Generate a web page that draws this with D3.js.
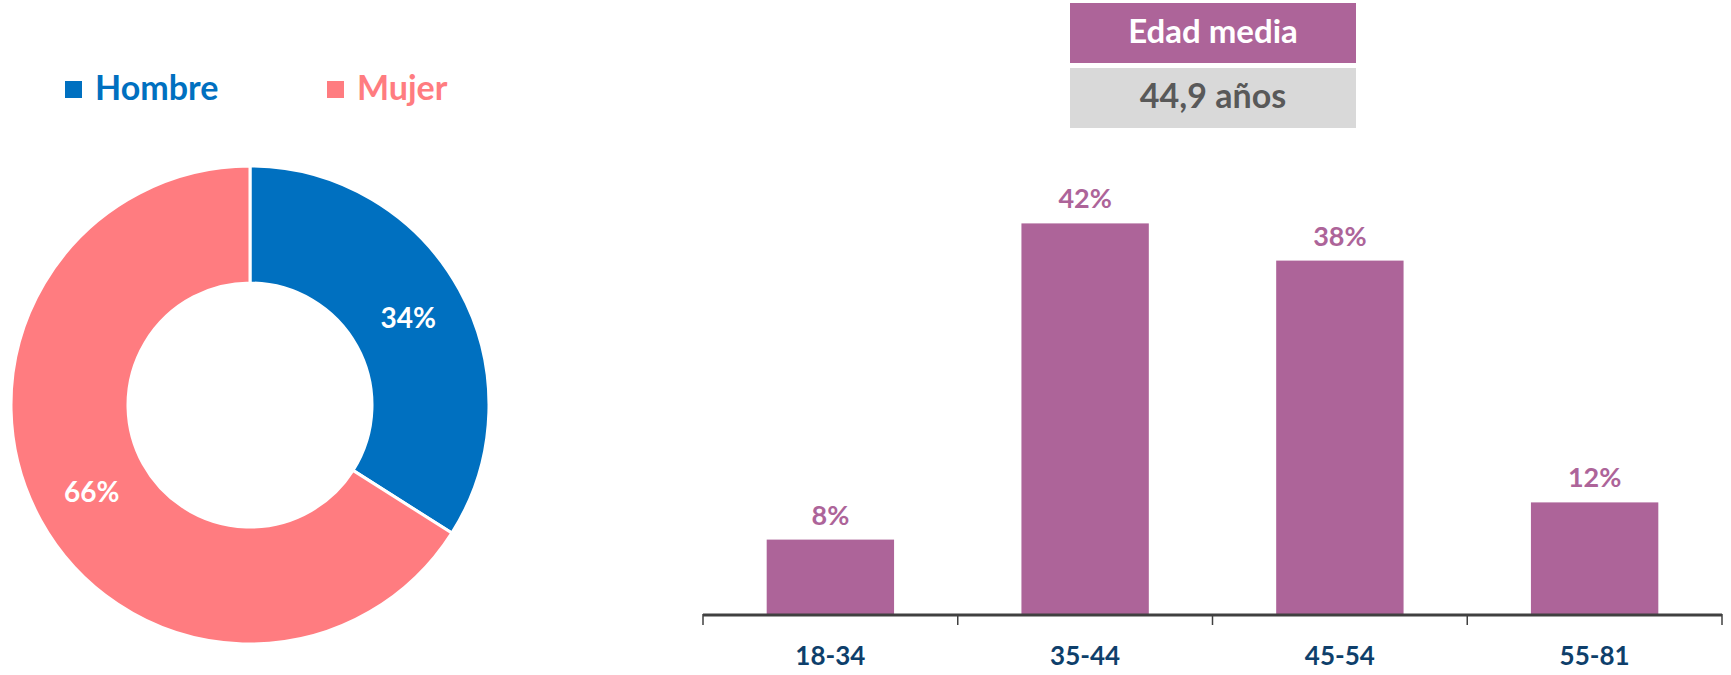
<!DOCTYPE html>
<html>
<head>
<meta charset="utf-8">
<script src="https://cdn.jsdelivr.net/npm/d3@7"></script>
<style>
  body { margin: 0; background: #fff; }
  text { font-family: Lato, "Open Sans", sans-serif; font-weight: bold; }
</style>
</head>
<body>
<svg id="chart"></svg>
<script>
// gender split
var genderLabels = ["Hombre", "Mujer"];
var genderValues = [34, 66];
var genderColors = ["#0070C0", "#FF7C80"];

// age groups
var ageGroups = ["18-34", "35-44", "45-54", "55-81"];
var ageValues = [8, 42, 38, 12];

var meanTitle = "Edad media";
var meanValue = "44,9 años";

var width = 1731, height = 675;
var svg = d3.select("#chart")
    .attr("width", width)
    .attr("height", height);

// ---- legend
var legendX = [65, 327];
var legend = svg.selectAll("g.legend")
    .data(genderLabels)
    .enter().append("g")
    .attr("class", "legend")
    .attr("transform", function(d, i) { return "translate(" + legendX[i] + ",0)"; });
legend.append("rect")
    .attr("x", 0)
    .attr("y", 81)
    .attr("width", 17)
    .attr("height", 17)
    .style("fill", function(d, i) { return genderColors[i]; });
legend.append("text")
    .attr("x", 30)
    .attr("y", 100)
    .style("font-size", "34px")
    .style("fill", function(d, i) { return genderColors[i]; })
    .text(function(d) { return d; });

// ---- donut
var cx = 250, cy = 405;
var rOuter = 239, rInner = 122;
var pie = d3.pie().sort(null).value(function(d) { return d; });
var arc = d3.arc().innerRadius(rInner).outerRadius(rOuter);
var donut = svg.append("g").attr("transform", "translate(" + cx + "," + cy + ")");
var slices = pie(genderValues);
donut.selectAll("path")
    .data(slices)
    .enter().append("path")
    .attr("d", arc)
    .style("fill", function(d, i) { return genderColors[i]; })
    .style("stroke", "#fff")
    .style("stroke-width", 3);
donut.selectAll("text")
    .data(slices)
    .enter().append("text")
    .attr("transform", function(d) { return "translate(" + arc.centroid(d) + ")"; })
    .attr("text-anchor", "middle")
    .attr("dy", "0.36em")
    .style("font-size", "28px")
    .style("fill", "#fff")
    .text(function(d) { return d.data + "%"; });

// ---- mean age box
var boxX = 1070, boxW = 286;
svg.append("rect")
    .attr("x", boxX).attr("y", 3)
    .attr("width", boxW).attr("height", 60)
    .style("fill", "#AD6499");
svg.append("text")
    .attr("x", boxX + boxW / 2).attr("y", 43)
    .attr("text-anchor", "middle")
    .style("font-size", "33px")
    .style("fill", "#fff")
    .text(meanTitle);
svg.append("rect")
    .attr("x", boxX).attr("y", 68)
    .attr("width", boxW).attr("height", 60)
    .style("fill", "#D9D9D9");
svg.append("text")
    .attr("x", boxX + boxW / 2).attr("y", 108)
    .attr("text-anchor", "middle")
    .style("font-size", "34px")
    .style("fill", "#595959")
    .text(meanValue);

// ---- bars
var x = d3.scaleBand()
    .domain(ageGroups)
    .range([703, 1722])
    .paddingInner(0.5)
    .paddingOuter(0.25);
var y = d3.scaleLinear()
    .domain([0, 45])
    .range([614, 614 - 45 * 9.3]);

var bars = svg.append("g");
bars.selectAll("rect")
    .data(ageValues)
    .enter().append("rect")
    .attr("x", function(d, i) { return x(ageGroups[i]); })
    .attr("y", function(d) { return y(d); })
    .attr("width", x.bandwidth())
    .attr("height", function(d) { return y(0) - y(d); })
    .style("fill", "#AD6499");
bars.selectAll("text")
    .data(ageValues)
    .enter().append("text")
    .attr("x", function(d, i) { return x(ageGroups[i]) + x.bandwidth() / 2; })
    .attr("y", function(d) { return y(d) - 15; })
    .attr("text-anchor", "middle")
    .style("font-size", "27px")
    .style("fill", "#AD6499")
    .text(function(d) { return d + "%"; });

// axis: line with ticks at band boundaries, labels in band centres
var axis = svg.append("g");
var step = x.step();
var x0 = x.range()[0];
axis.append("line")
    .attr("x1", x0).attr("x2", x.range()[1])
    .attr("y1", y(0) + 1).attr("y2", y(0) + 1)
    .style("stroke", "#404040")
    .style("stroke-width", 3);
axis.selectAll("line.tick")
    .data(d3.range(ageGroups.length + 1))
    .enter().append("line")
    .attr("class", "tick")
    .attr("x1", function(i) { return x0 + i * step; })
    .attr("x2", function(i) { return x0 + i * step; })
    .attr("y1", y(0)).attr("y2", y(0) + 11)
    .style("stroke", "#404040")
    .style("stroke-width", 1.5);
axis.selectAll("text")
    .data(ageGroups)
    .enter().append("text")
    .attr("x", function(d) { return x(d) + x.bandwidth() / 2; })
    .attr("y", 665)
    .attr("text-anchor", "middle")
    .style("font-size", "26px")
    .style("fill", "#0E3F6B")
    .text(function(d) { return d; });
</script>
</body>
</html>
